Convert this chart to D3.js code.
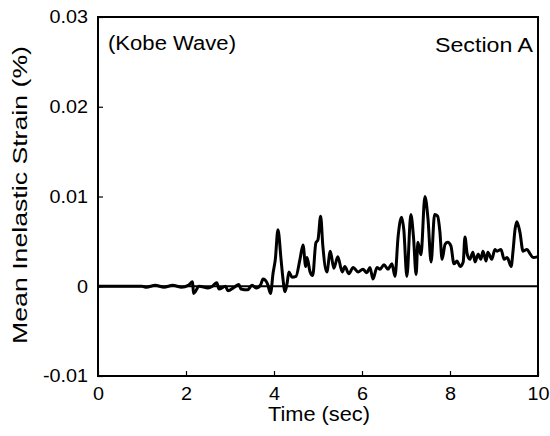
<!DOCTYPE html>
<html><head><meta charset="utf-8">
<script src="https://cdn.jsdelivr.net/npm/d3@7"></script>
<style>
body{margin:0;background:#fff;}
text{font-family:"Liberation Sans",Arial,sans-serif;fill:#000;}
</style></head>
<body><svg id="c" width="550" height="436"></svg>
<script>
const xTicks = [0, 2, 4, 6, 8, 10];
const yTicks = [-0.01, 0, 0.01, 0.02, 0.03];
const yTickLabels = ["-0.01", "0", "0.01", "0.02", "0.03"];
const time = [0,1.0,1.1,1.3,1.5,1.7,1.9,2.05,2.15,2.17,2.3,2.5,2.6,2.7,2.75,2.9,2.95,3.1,3.2,3.25,3.4,3.5,3.6,3.7,3.75,3.85,3.92,3.98,4.03,4.09,4.16,4.2,4.25,4.3,4.34,4.41,4.5,4.59,4.66,4.72,4.75,4.82,4.88,4.95,5.0,5.06,5.11,5.2,5.28,5.36,5.45,5.55,5.61,5.7,5.8,5.91,6.02,6.11,6.18,6.25,6.34,6.41,6.5,6.59,6.68,6.75,6.82,6.9,6.95,7.02,7.11,7.17,7.23,7.27,7.34,7.43,7.5,7.57,7.65,7.72,7.77,7.82,7.89,7.95,8.02,8.09,8.16,8.23,8.30,8.34,8.39,8.45,8.52,8.57,8.64,8.70,8.75,8.82,8.86,8.95,9.02,9.07,9.16,9.23,9.30,9.39,9.43,9.48,9.52,9.59,9.66,9.75,9.82,9.89,10.0];
const strain = [0,0,-0.0001,0.0001,-0.0001,0.0001,-0.0001,0.0001,0.0005,-0.0008,0.0,-0.0002,0.0,0.0004,-0.0003,0.0,-0.0005,-0.0001,0.0002,-0.0003,-0.0004,0.0001,-0.0002,0.0002,0.0008,0.0003,-0.0008,0.0015,0.0030,0.0063,0.0030,0.0010,-0.0006,0.0004,0.0016,0.0010,0.0011,0.0030,0.0046,0.0022,0.0032,0.0016,0.0012,0.0048,0.0052,0.0078,0.0045,0.0016,0.0039,0.0020,0.0033,0.0016,0.0022,0.0014,0.0021,0.0016,0.0019,0.0015,0.0021,0.0008,0.0021,0.0019,0.0024,0.0019,0.0025,0.0011,0.0055,0.0077,0.0063,0.0011,0.0080,0.0055,0.0013,0.0049,0.0035,0.0100,0.0075,0.0027,0.0080,0.0078,0.0061,0.0030,0.0047,0.0049,0.0045,0.0025,0.0028,0.0022,0.0027,0.0055,0.0036,0.0030,0.0038,0.0027,0.0036,0.0030,0.0039,0.0028,0.0038,0.0030,0.0041,0.0039,0.0041,0.0030,0.0032,0.0022,0.0038,0.0064,0.0072,0.0060,0.0039,0.0041,0.0036,0.0032,0.0033,0.0028];

const svg = d3.select("#c");
const L = 98, R = 538, T = 17, B = 376;
const x = d3.scaleLinear().domain([0, 10]).range([L, R]);
const y = d3.scaleLinear().domain([-0.01, 0.03]).range([B, T]);

function stretch(sel, k) {
  sel.each(function () {
    const w = this.getComputedTextLength();
    d3.select(this).attr("textLength", w * k).attr("lengthAdjust", "spacingAndGlyphs");
  });
}

// zero line
svg.append("line").attr("x1", L).attr("x2", R).attr("y1", y(0)).attr("y2", y(0))
  .attr("stroke", "#000").attr("stroke-width", 1.8);

// data line
const data = time.map((t, i) => [t, strain[i]]);
svg.append("path").datum(data)
  .attr("d", d3.line().x(d => x(d[0])).y(d => y(d[1])).curve(d3.curveMonotoneX))
  .attr("fill", "none").attr("stroke", "#000").attr("stroke-width", 3).attr("stroke-linejoin", "round");

// axes with inward ticks
const xa = svg.append("g").attr("transform", `translate(0,${B})`)
  .call(d3.axisBottom(x).tickValues(xTicks).tickSizeInner(-5).tickSizeOuter(0).tickPadding(11));
const ya = svg.append("g").attr("transform", `translate(${L},0)`)
  .call(d3.axisLeft(y).tickValues(yTicks).tickFormat((d, i) => yTickLabels[i]).tickSizeInner(-5).tickSizeOuter(0).tickPadding(10));
[xa, ya].forEach(g => {
  g.select(".domain").remove();
  g.selectAll(".tick line").attr("stroke", "#000").attr("stroke-width", 1.2);
  g.selectAll(".tick text").attr("font-size", 18).attr("font-family", "Liberation Sans, Arial, sans-serif").attr("fill", "#000");
});
stretch(xa.selectAll(".tick text"), 1.1);
stretch(ya.selectAll(".tick text"), 1.1);

// frame
svg.append("rect").attr("x", L).attr("y", T).attr("width", R - L).attr("height", B - T)
  .attr("fill", "none").attr("stroke", "#000").attr("stroke-width", 2);

// titles
svg.append("text").attr("x", 319).attr("y", 421).attr("text-anchor", "middle")
  .attr("font-size", 20).attr("textLength", 102).attr("lengthAdjust", "spacingAndGlyphs").text("Time (sec)");
svg.append("text").attr("transform", `translate(27,195) rotate(-90)`).attr("text-anchor", "middle")
  .attr("font-size", 20).attr("textLength", 298).attr("lengthAdjust", "spacingAndGlyphs").text("Mean Inelastic Strain (%)");

svg.append("text").attr("x", 108).attr("y", 50).attr("font-size", 20)
  .attr("textLength", 128).attr("lengthAdjust", "spacingAndGlyphs").text("(Kobe Wave)");
svg.append("text").attr("x", 435).attr("y", 52).attr("font-size", 20)
  .attr("textLength", 98).attr("lengthAdjust", "spacingAndGlyphs").text("Section A");
</script></body></html>
